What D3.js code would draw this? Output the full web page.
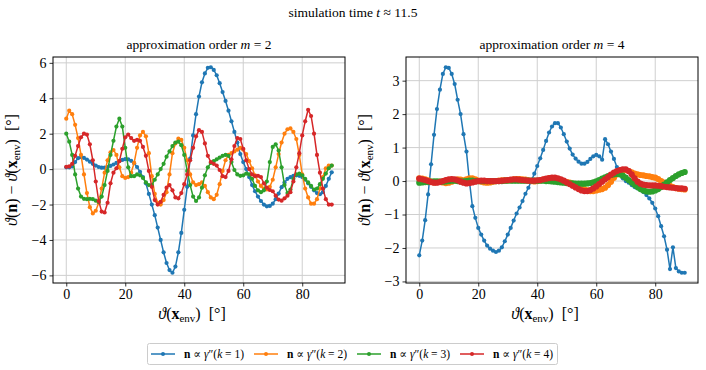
<!DOCTYPE html>
<html>
<head>
<meta charset="utf-8">
<script src="https://cdn.jsdelivr.net/npm/d3@7"></script>
<style>
  body { margin: 0; background: #fff; }
</style>
</head>
<body>
<div id="chart"></div>
<script>
// sample angles theta(x_env) in degrees
const angles = d3.range(0, 91);
const kLabels = ["1", "2", "3", "4"];
const colors = ["#1f77b4", "#ff7f0e", "#2ca02c", "#d62728"];
const xTicks = [0, 20, 40, 60, 80];
const yTicksM2 = [-6, -4, -2, 0, 2, 4, 6];
const yTicksM4 = [-3, -2, -1, 0, 1, 2, 3];
const SERIF = "'Liberation Serif', 'Times New Roman', 'DejaVu Serif', serif";

// approximation order m = 2
const m2k1 = [0.1,0.1,0.15,0.4,0.62,0.68,0.63,0.54,0.42,0.3,0.2,0.12,0.08,0.08,0.12,0.18,0.26,0.35,0.45,0.52,
  0.56,0.55,0.47,0.33,0.12,-0.15,-0.45,-0.8,-1.4,-2.0,-2.6,-3.3,-4.0,-4.7,-5.3,-5.7,-5.85,-5.5,-4.7,-3.6,
  -2.3,-1.0,0.6,1.9,3.1,4.1,4.9,5.4,5.72,5.75,5.6,5.3,4.85,4.35,3.85,3.3,2.7,2.1,1.5,0.85,
  0.4,0.0,-0.45,-0.9,-1.25,-1.55,-1.8,-2.0,-2.1,-2.08,-1.95,-1.7,-1.38,-1.02,-0.75,-0.55,-0.45,-0.38,-0.35,-0.38,
  -0.45,-0.6,-0.8,-1.0,-1.2,-1.35,-1.42,-1.3,-0.95,-0.55,-0.18];
const m2k2 = [2.85,3.3,3.1,2.5,1.75,0.8,-0.3,-1.35,-2.15,-2.5,-2.35,-1.9,-1.1,-0.2,0.5,0.95,1.08,0.8,0.1,-0.4,
  -0.5,-0.45,-0.2,0.35,1.2,1.9,2.1,1.85,0.9,-0.4,-1.4,-1.9,-2.0,-1.75,-1.3,-0.3,0.9,1.45,1.72,1.65,
  1.2,0.5,-0.3,-0.75,-0.9,-0.85,-0.75,-0.95,-1.3,-1.6,-1.7,-1.45,-0.85,-0.1,0.5,0.8,0.9,1.0,1.1,1.2,
  1.1,0.85,0.45,0.05,-0.35,-0.7,-0.95,-1.1,-1.15,-1.0,-0.6,0.1,0.85,1.5,2.0,2.25,2.3,2.1,1.7,0.8,
  -0.3,-1.1,-1.6,-1.95,-1.95,-1.7,-1.1,-0.45,0.05,0.2,0.2];
const m2k3 = [2.0,1.55,0.8,-0.3,-1.1,-1.55,-1.68,-1.7,-1.68,-1.7,-1.78,-1.85,-1.55,-0.9,-0.1,0.8,1.6,2.4,2.85,2.4,
  1.2,0.1,-0.4,-0.4,-0.3,-0.35,-0.5,-0.75,-0.9,-0.9,-0.6,-0.3,0.0,0.3,0.7,1.0,1.3,1.5,1.55,1.35,
  0.8,-0.1,-0.9,-1.55,-1.8,-1.6,-1.05,-0.35,0.1,0.35,0.45,0.55,0.65,0.75,0.8,0.75,0.4,-0.05,-0.3,-0.38,
  -0.35,-0.25,-0.3,-0.55,-0.95,-1.2,-1.3,-1.2,-0.7,0.4,1.25,1.4,1.05,0.1,-0.9,-1.35,-1.15,-0.55,-0.3,-0.25,
  -0.35,-0.55,-0.75,-0.95,-1.15,-1.1,-0.85,-0.55,-0.25,0.05,0.2];
const m2k4 = [0.13,0.15,0.3,0.75,1.3,1.8,2.0,1.95,1.4,0.5,-0.7,-1.8,-2.4,-2.45,-1.9,-0.8,-0.2,0.05,0.45,1.15,
  1.8,1.95,1.75,1.6,1.65,1.6,1.25,0.75,-0.1,-1.0,-1.75,-2.0,-1.85,-1.45,-1.05,-0.9,-1.2,-1.6,-1.65,-1.35,
  -0.85,-0.3,0.5,1.2,1.85,2.2,2.1,1.45,0.75,0.4,0.3,0.2,-0.05,-0.4,-0.45,-0.1,0.55,1.3,1.75,1.7,
  1.15,0.5,0.0,-0.3,-0.4,-0.38,-0.45,-0.8,-1.05,-1.18,-1.25,-1.5,-1.72,-1.78,-1.65,-1.5,-1.3,-0.7,0.1,0.9,
  1.9,2.7,3.35,3.0,2.0,0.8,-0.2,-1.1,-1.7,-2.0,-2.0];

// approximation order m = 4
const m4k1 = [-2.22,-1.78,-1.17,-0.4,0.5,1.38,2.15,2.73,3.2,3.4,3.38,3.2,2.9,2.43,2.0,1.4,0.88,0.0,-0.75,-1.1,
  -1.4,-1.6,-1.78,-1.93,-2.02,-2.08,-2.12,-2.08,-1.98,-1.8,-1.6,-1.4,-1.18,-0.97,-0.79,-0.6,-0.38,-0.2,0.0,0.22,
  0.45,0.68,0.93,1.2,1.45,1.63,1.73,1.73,1.6,1.4,1.18,0.97,0.79,0.67,0.58,0.52,0.52,0.57,0.66,0.74,
  0.78,0.74,0.64,1.25,1.1,0.88,0.66,0.42,0.2,0.08,0.0,-0.05,-0.12,-0.18,-0.22,-0.27,-0.33,-0.42,-0.52,-0.65,
  -0.82,-1.05,-1.35,-1.65,-2.05,-2.63,-1.98,-2.6,-2.7,-2.74,-2.74];
const m4k2 = [0.08,0.07,0.05,0.02,-0.02,-0.04,-0.03,-0.02,-0.04,-0.06,-0.05,-0.02,0.02,0.05,0.04,0.02,0.05,0.08,0.08,0.05,
  0.01,-0.02,-0.04,-0.05,-0.04,-0.02,0.0,0.01,0.02,0.02,0.02,0.03,0.05,0.06,0.06,0.05,0.04,0.02,0.0,-0.01,
  0.0,0.02,0.04,0.06,0.08,0.09,0.08,0.06,0.03,0.0,-0.03,-0.05,-0.08,-0.1,-0.14,-0.2,-0.25,-0.28,-0.3,-0.3,
  -0.28,-0.26,-0.24,-0.2,-0.12,-0.02,0.1,0.2,0.28,0.32,0.33,0.3,0.26,0.22,0.2,0.18,0.17,0.15,0.14,0.12,
  0.1,0.06,0.0,-0.05,-0.1,-0.14,-0.18,-0.21,-0.23,-0.24,-0.25];
const m4k3 = [-0.05,-0.04,-0.03,-0.03,-0.02,-0.01,-0.01,-0.02,-0.02,-0.01,0.0,0.01,0.01,0.0,-0.01,-0.01,0.0,0.01,0.01,0.0,
  0.0,0.0,0.0,0.0,0.0,0.0,0.0,0.0,0.0,0.01,0.01,0.01,0.01,0.01,0.01,0.01,0.01,0.01,0.01,0.01,
  0.01,0.01,0.01,0.0,0.0,-0.01,-0.02,-0.03,-0.04,-0.05,-0.06,-0.07,-0.07,-0.08,-0.08,-0.08,-0.08,-0.07,-0.06,-0.04,
  -0.01,0.03,0.07,0.11,0.15,0.18,0.2,0.21,0.2,0.16,0.1,0.03,-0.04,-0.11,-0.18,-0.24,-0.28,-0.31,-0.32,-0.31,
  -0.28,-0.24,-0.18,-0.11,-0.04,0.03,0.09,0.15,0.2,0.24,0.27];
const m4k4 = [0.07,0.05,0.03,0.0,-0.03,-0.05,-0.05,-0.03,0.0,0.03,0.05,0.06,0.05,0.02,-0.02,-0.05,-0.07,-0.06,-0.04,-0.02,
  0.0,0.01,0.01,0.0,0.0,0.0,0.0,0.0,0.01,0.02,0.03,0.04,0.05,0.05,0.04,0.03,0.02,0.01,0.01,0.01,
  0.02,0.03,0.05,0.07,0.09,0.1,0.1,0.08,0.05,0.01,-0.04,-0.09,-0.14,-0.19,-0.24,-0.28,-0.3,-0.3,-0.27,-0.22,
  -0.16,-0.09,-0.02,0.05,0.12,0.19,0.25,0.3,0.33,0.35,0.35,0.3,0.2,0.08,-0.02,-0.08,-0.11,-0.12,-0.13,-0.13,
  -0.13,-0.14,-0.15,-0.17,-0.18,-0.19,-0.2,-0.21,-0.22,-0.22,-0.23];

const width = 706, height = 370;
const svg = d3.select("#chart").append("svg")
  .attr("width", width).attr("height", height)
  .attr("font-family", SERIF);

// suptitle
const sup = svg.append("text").attr("x", 353).attr("y", 17)
  .attr("text-anchor", "middle").attr("font-family", SERIF).attr("font-size", 13.5);
sup.append("tspan").text("simulation time ");
sup.append("tspan").attr("font-style", "italic").text("t");
sup.append("tspan").text(" \u2248 11.5");

function panel(left, order, series, yTicks, thick) {
  const top = 57, w = 292, h = 226;
  const all = series.flat();
  const lo = d3.min(all), hi = d3.max(all), pad = (hi - lo) * 0.05;
  const x = d3.scaleLinear().domain([-4.5, 94.5]).range([left, left + w]);
  const y = d3.scaleLinear().domain([lo - pad, hi + pad]).range([top + h, top]);

  const g = svg.append("g");

  // grid
  g.selectAll(".gx").data(xTicks).enter().append("line")
    .attr("x1", d => x(d)).attr("x2", d => x(d))
    .attr("y1", top).attr("y2", top + h)
    .attr("stroke", "#cfcfcf").attr("stroke-width", 1);
  g.selectAll(".gy").data(yTicks).enter().append("line")
    .attr("y1", d => y(d)).attr("y2", d => y(d))
    .attr("x1", left).attr("x2", left + w)
    .attr("stroke", "#cfcfcf").attr("stroke-width", 1);

  // axes
  const xa = g.append("g").attr("transform", "translate(0," + (top + h) + ")")
    .call(d3.axisBottom(x).tickValues(xTicks).tickSize(3.5).tickPadding(3));
  const ya = g.append("g").attr("transform", "translate(" + left + ",0)")
    .call(d3.axisLeft(y).tickValues(yTicks).tickSize(3.5).tickPadding(3).tickFormat(d3.format("d")));
  [xa, ya].forEach(a => {
    a.attr("font-family", SERIF).attr("font-size", 14);
    a.select(".domain").remove();
    a.selectAll("text").attr("fill", "#000");
    a.selectAll("line").attr("stroke", "#000").attr("stroke-width", 0.8);
  });

  // lines and markers
  const line = d3.line().x((d, i) => x(angles[i])).y(d => y(d));
  series.forEach((s, k) => {
    const big = thick && k > 0;
    g.append("path").datum(s).attr("d", line)
      .attr("fill", "none").attr("stroke", colors[k])
      .attr("stroke-width", big ? 4.5 : 1.5).attr("stroke-linejoin", "round");
    g.selectAll(".m" + k).data(s).enter().append("circle")
      .attr("cx", (d, i) => x(angles[i])).attr("cy", d => y(d))
      .attr("r", big ? 3.1 : 2.1).attr("fill", colors[k]);
  });

  // frame
  g.append("rect").attr("x", left).attr("y", top).attr("width", w).attr("height", h)
    .attr("fill", "none").attr("stroke", "#000").attr("stroke-width", 1);

  // title
  const t = g.append("text").attr("x", left + w / 2).attr("y", 49)
    .attr("text-anchor", "middle").attr("font-size", 13.5);
  t.append("tspan").text("approximation order ");
  t.append("tspan").attr("font-style", "italic").text("m");
  t.append("tspan").text(" = " + order);

  // x label
  const xl = g.append("text").attr("x", left + w / 2 - 7).attr("y", 319)
    .attr("text-anchor", "middle").attr("font-size", 16);
  xl.append("tspan").attr("font-style", "italic").text("\u03d1");
  xl.append("tspan").text("(");
  xl.append("tspan").attr("font-weight", "bold").text("x");
  xl.append("tspan").attr("dy", 3).attr("font-size", 11).text("env");
  xl.append("tspan").attr("dy", -3).text(")\u2002[\u00b0]");

  // y label
  const yl = g.append("text")
    .attr("transform", "translate(" + (left - 36) + "," + (top + h / 2) + ") rotate(-90)")
    .attr("text-anchor", "middle").attr("font-size", 16);
  yl.append("tspan").attr("font-style", "italic").text("\u03d1");
  yl.append("tspan").text("(");
  yl.append("tspan").attr("font-weight", "bold").text("n");
  yl.append("tspan").text(") \u2212 ");
  yl.append("tspan").attr("font-style", "italic").text("\u03d1");
  yl.append("tspan").text("(");
  yl.append("tspan").attr("font-weight", "bold").text("x");
  yl.append("tspan").attr("dy", 3).attr("font-size", 11).text("env");
  yl.append("tspan").attr("dy", -3).text(")\u2002[\u00b0]");
}

panel(53, 2, [m2k1, m2k2, m2k3, m2k4], yTicksM2, false);
panel(406, 4, [m4k1, m4k2, m4k3, m4k4], yTicksM4, true);

// legend
const lg = svg.append("g");
lg.append("rect").attr("x", 147.5).attr("y", 343.5).attr("width", 410).attr("height", 21)
  .attr("rx", 2).attr("fill", "#fff").attr("stroke", "#ccc").attr("stroke-width", 1);
const legX = [151, 254, 357, 460];
kLabels.forEach((k, i) => {
  const e = lg.append("g").attr("transform", "translate(" + legX[i] + ",354)");
  e.append("line").attr("x1", 0).attr("x2", 24).attr("stroke", colors[i]).attr("stroke-width", 1.5);
  e.append("circle").attr("cx", 12).attr("r", 2).attr("fill", colors[i]);
  const t = e.append("text").attr("x", 33).attr("y", 4).attr("font-size", 11.5);
  t.append("tspan").attr("font-weight", "bold").text("n");
  t.append("tspan").text(" \u221d ");
  t.append("tspan").attr("font-style", "italic").text("\u03b3");
  t.append("tspan").text("\u2033(");
  t.append("tspan").attr("font-style", "italic").text("k");
  t.append("tspan").text(" = " + k + ")");
});
</script>
</body>
</html>
